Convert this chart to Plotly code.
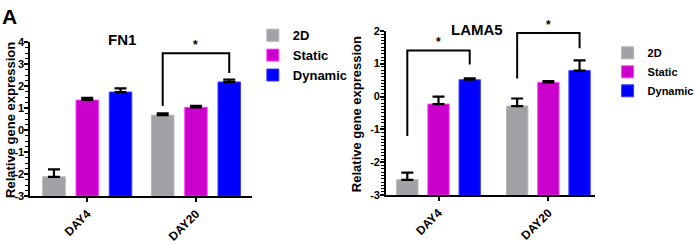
import plotly.graph_objects as go

categories = ["DAY4", "DAY20"]
groups = ["2D", "Static", "Dynamic"]

fn1_values = {"2D": [-2.12, 0.68], "Static": [1.37, 1.04], "Dynamic": [1.73, 2.19]}
fn1_err = {"2D": [0.34, 0.09], "Static": [0.10, 0.06], "Dynamic": [0.17, 0.11]}

lama5_values = {"2D": [-2.53, -0.29], "Static": [-0.23, 0.43], "Dynamic": [0.51, 0.79]}
lama5_err = {"2D": [0.22, 0.23], "Static": [0.23, 0.04], "Dynamic": [0.04, 0.31]}

fn1_yticks = [-3, -2, -1, 0, 1, 2, 3, 4]
fn1_yticklabels = ["-3", "-2", "-1", "0", "1", "2", "3", "4"]
lama5_yticks = [-3, -2, -1, 0, 1, 2]
lama5_yticklabels = ["-3", "-2", "-1", "0", "1", "2"]

colors = {"2D": "#A1A1A6", "Static": "#CC00CC", "Dynamic": "#0000FF"}
lines = {"2D": "#B4B4B8", "Static": "#FF40FF", "Dynamic": "#3A3AFF"}

FONT = "Liberation Sans, Arial, sans-serif"
W, H = 699, 245
BASE = -3  # bars rise from the bottom of the value axis

def px_x(p):
    return p / W

def px_y(p):
    return 1 - p / H

fig = go.Figure()

panels = [
    dict(vals=fn1_values, err=fn1_err, xa="x", ya="y", legend="legend",
         width=0.207, spacing=0.306),
    dict(vals=lama5_values, err=lama5_err, xa="x2", ya="y2", legend="legend2",
         width=0.194, spacing=0.284),
]

for pi, p in enumerate(panels):
    for gi, g in enumerate(groups):
        center = (gi - 1) * p["spacing"]
        fig.add_trace(go.Bar(
            x=categories, y=[v - BASE for v in p["vals"][g]], base=BASE, name=g,
            customdata=p["vals"][g], hovertemplate="%{x}: %{customdata}<extra>" + g + "</extra>",
            xaxis=p["xa"], yaxis=p["ya"], legend=p["legend"],
            width=p["width"], offset=center - p["width"] / 2,
            marker=dict(color=colors[g], line=dict(color=lines[g], width=1)),
            error_y=dict(type="data", symmetric=False, array=p["err"][g],
                         arrayminus=[0] * len(categories),
                         color="black", thickness=2.2, width=6),
        ))

axis_common = dict(showline=True, linecolor="black", linewidth=2, ticks="outside",
                   ticklen=4, tickwidth=1.5, tickcolor="black", showgrid=False,
                   zeroline=False)
yfont = dict(family=FONT, size=11, color="black", weight="bold")
xfont = dict(family=FONT, size=12, color="black", weight="bold")

fig.update_layout(
    width=W, height=H, margin=dict(l=0, r=0, t=0, b=0),
    paper_bgcolor="white", plot_bgcolor="white", barmode="overlay",
    xaxis=dict(domain=[px_x(31), px_x(257)], range=[-0.523, 1.514], anchor="y",
               tickangle=-45, tickfont=xfont, **axis_common),
    yaxis=dict(domain=[px_y(200), px_y(38)], range=[-3, 4], anchor="x",
               tickvals=fn1_yticks, ticktext=fn1_yticklabels, tickfont=yfont,
               ticklabelstandoff=-2,
               minor=dict(ticks="outside", dtick=0.25, ticklen=3, tickwidth=1, tickcolor="black"),
               **axis_common),
    xaxis2=dict(domain=[px_x(394), px_x(607)], range=[-0.477, 1.423], anchor="y2",
                tickangle=-45, tickfont=xfont, **axis_common),
    yaxis2=dict(domain=[px_y(199), px_y(26)], range=[-3, 2], anchor="x2",
                tickvals=lama5_yticks, ticktext=lama5_yticklabels, tickfont=yfont,
                ticklabelstandoff=-2,
                minor=dict(ticks="outside", dtick=0.1, ticklen=3, tickwidth=1, tickcolor="black"),
                **axis_common),
    legend=dict(x=px_x(258), y=px_y(15), xanchor="left", yanchor="top",
                font=dict(family=FONT, size=13, color="black", weight="bold"),
                bgcolor="rgba(0,0,0,0)", tracegroupgap=0, itemwidth=30),
    legend2=dict(x=px_x(620), y=px_y(34), xanchor="left", yanchor="top",
                 font=dict(family=FONT, size=11, color="black", weight="bold"),
                 bgcolor="rgba(0,0,0,0)", tracegroupgap=0, itemwidth=30),
    showlegend=True,
)

# significance brackets
brackets = [
    ("x", "y", 1 - 0.306, 1 + 0.306, 1.1, 3.5, 2.6),
    ("x2", "y2", -0.284, 0.284, -1.2, 1.4, 0.97),
    ("x2", "y2", 1 - 0.284, 1 + 0.284, 0.55, 1.93, 1.47),
]
for xa, ya, x0, x1, yl, yt, yr in brackets:
    fig.add_shape(type="path", xref=xa, yref=ya,
                  path=f"M {x0},{yl} L {x0},{yt} L {x1},{yt} L {x1},{yr}",
                  line=dict(color="black", width=2))
    fig.add_annotation(x=(x0 + x1) / 2, y=yt, xref=xa, yref=ya, text="*",
                       showarrow=False, xanchor="center", yanchor="bottom", yshift=-1,
                       font=dict(family=FONT, size=12, color="black", weight="bold"))

# titles and labels
def label(x, y, text, size, angle=0):
    fig.add_annotation(x=px_x(x), y=px_y(y), xref="paper", yref="paper", text=text,
                       showarrow=False, xanchor="center", yanchor="middle", textangle=angle,
                       font=dict(family=FONT, size=size, color="black", weight="bold"))

label(125, 35, "FN1", 15)
label(487, 25, "LAMA5", 15)
label(10, 11, "A", 21)
label(10, 120, "Relative gene expression", 13, -90)
label(364, 114, "Relative gene expression", 13, -90)

fig.write_html("out.html", config={"displayModeBar": False},
               post_script="document.body.style.margin='0';document.body.style.overflow='hidden';")
